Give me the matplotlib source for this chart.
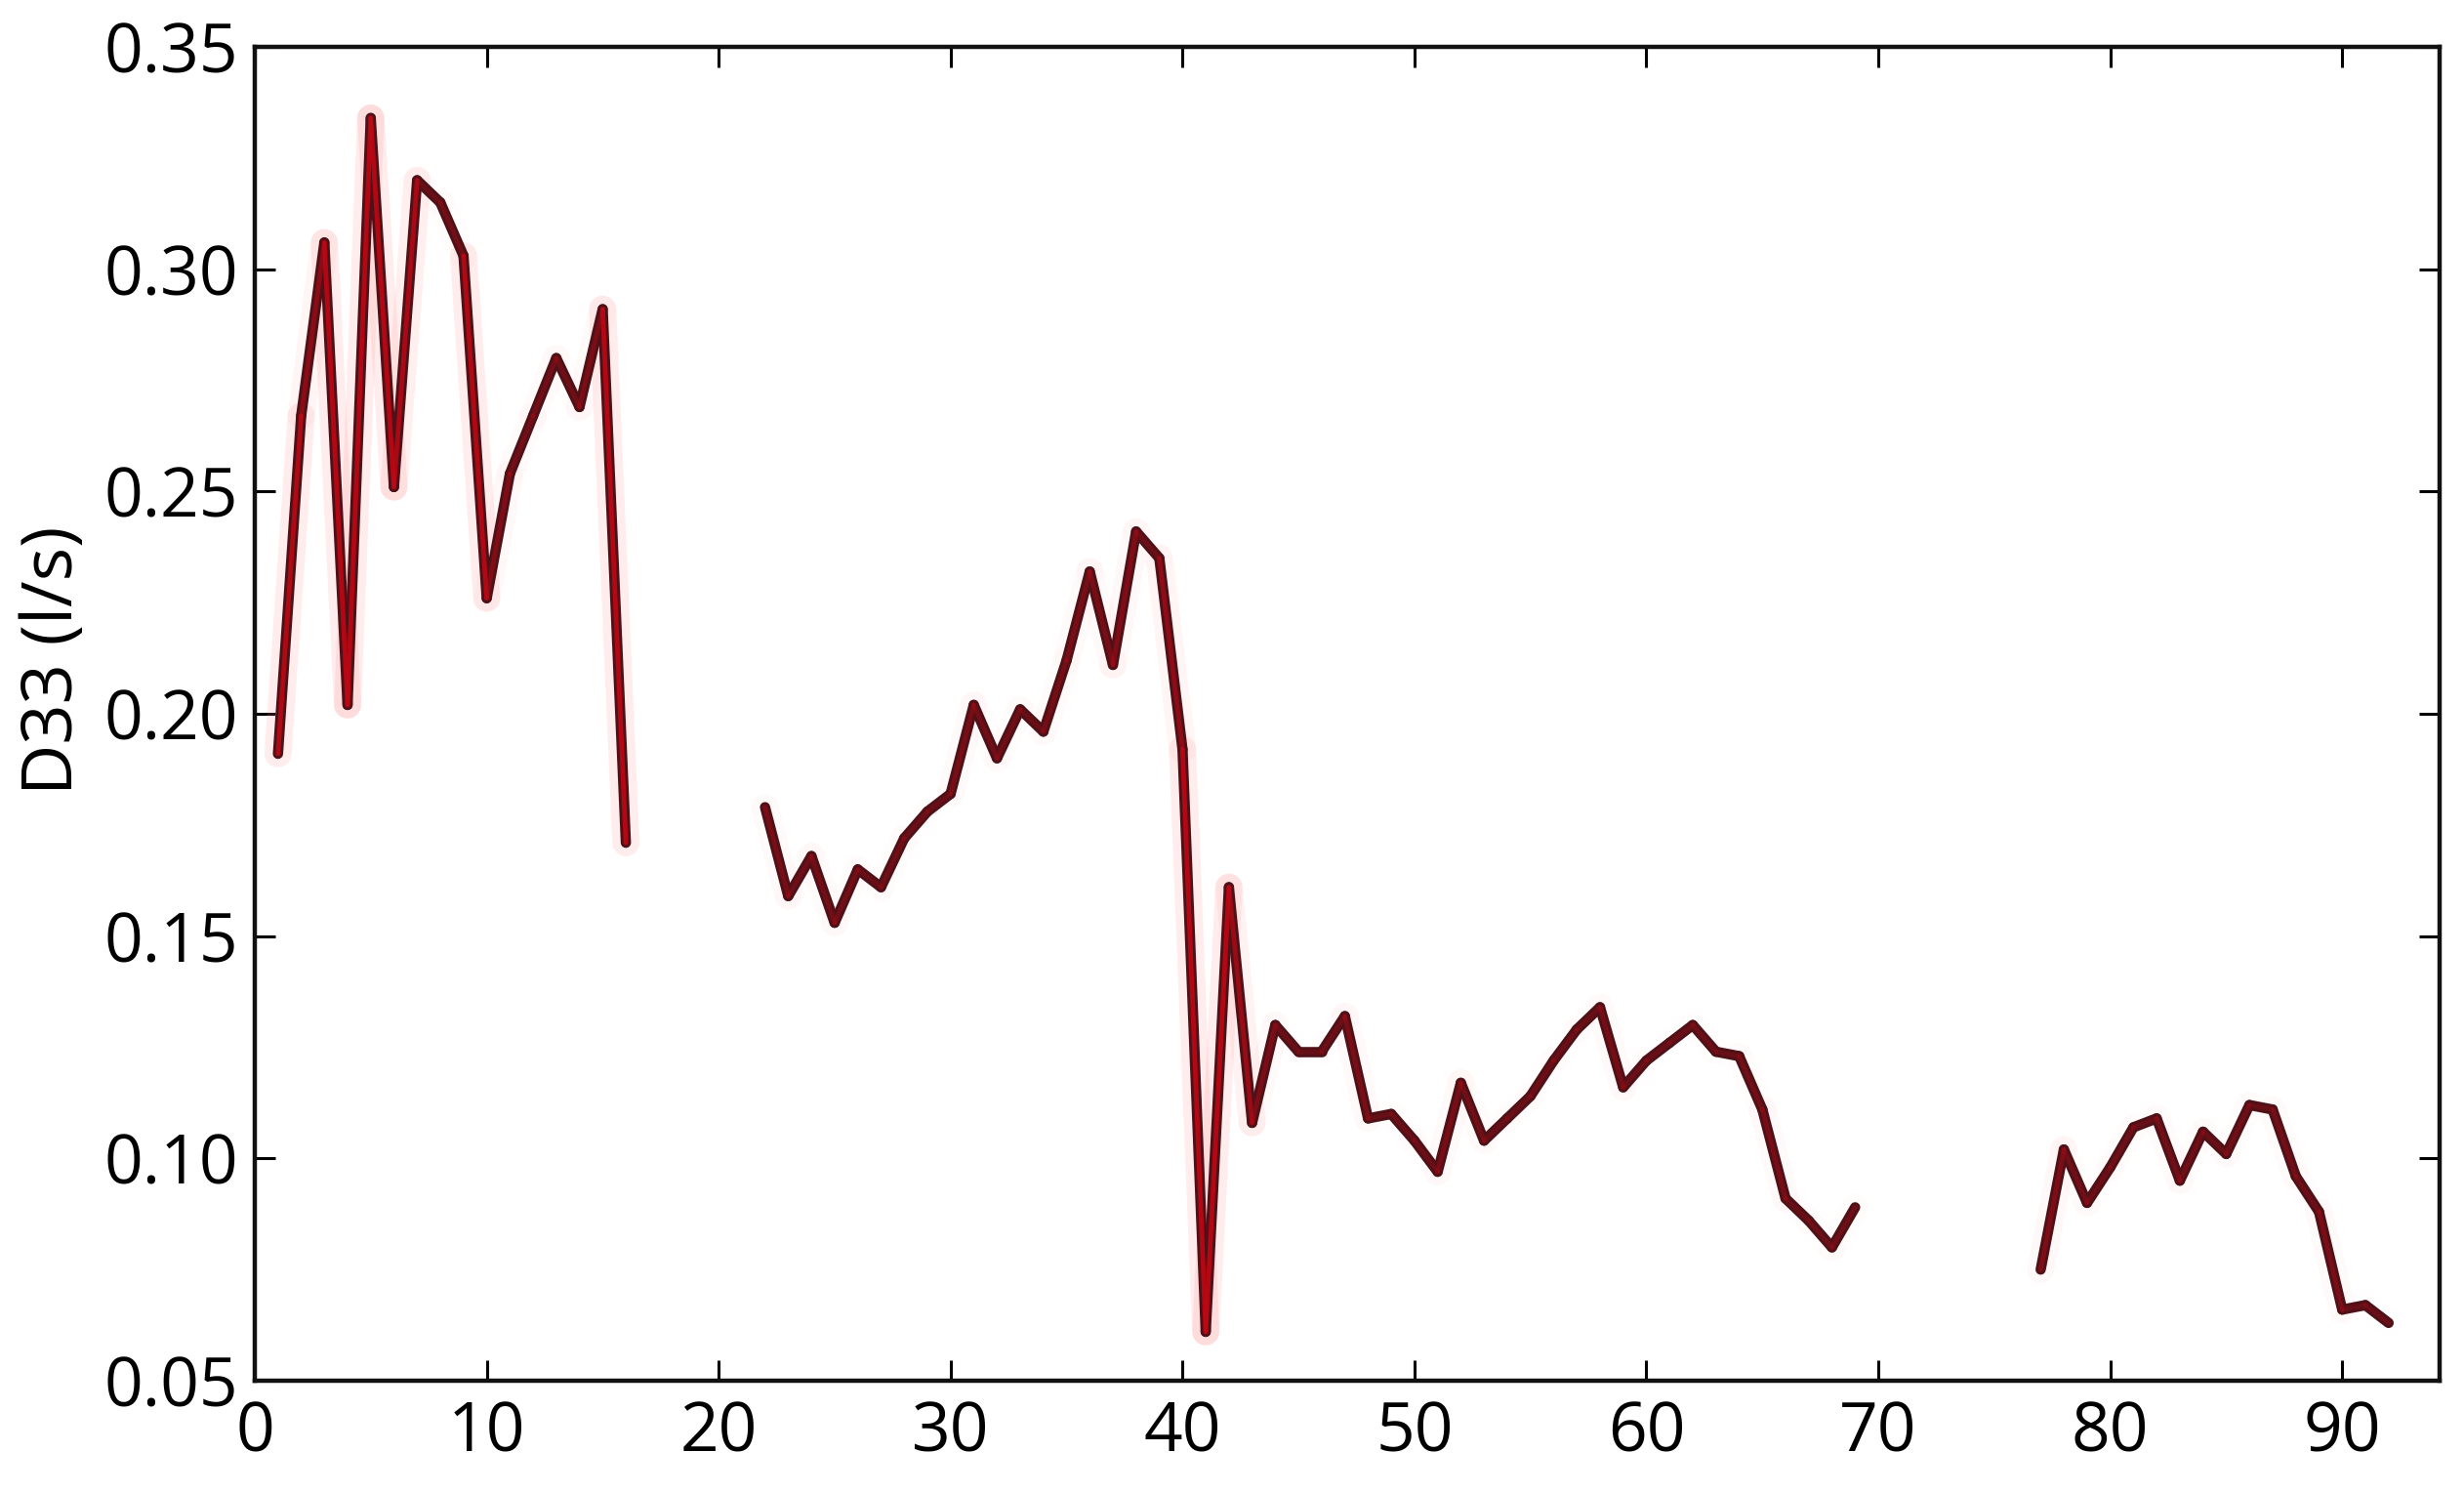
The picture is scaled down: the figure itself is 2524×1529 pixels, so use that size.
import numpy as np
import matplotlib
matplotlib.use("Agg")
import matplotlib.pyplot as plt
from matplotlib.collections import LineCollection

plt.rcParams['font.family'] = ['Open Sans', 'DejaVu Sans']

# data (three separate runs with gaps between)
x1 = list(range(1, 17))
y1 = [0.191, 0.267, 0.306, 0.202, 0.334, 0.251, 0.320, 0.315, 0.303, 0.226,
      0.254, 0.267, 0.280, 0.269, 0.291, 0.171]

x2 = list(range(22, 70))
y2 = [0.179, 0.159, 0.168, 0.153, 0.165, 0.161, 0.172, 0.178, 0.182, 0.202,
      0.190, 0.201, 0.196, 0.212, 0.232, 0.211, 0.241, 0.235, 0.192, 0.061,
      0.161, 0.108, 0.130, 0.124, 0.124, 0.132, 0.109, 0.110, 0.104, 0.097,
      0.117, 0.104, 0.109, 0.114, 0.122, 0.129, 0.134, 0.116, 0.122, 0.126,
      0.130, 0.124, 0.123, 0.111, 0.091, 0.086, 0.080, 0.089]

x3 = list(range(77, 93))
y3 = [0.075, 0.102, 0.090, 0.098, 0.107, 0.109, 0.095, 0.106, 0.101, 0.112,
      0.111, 0.096, 0.088, 0.066, 0.067, 0.063]

xticks = [0, 10, 20, 30, 40, 50, 60, 70, 80, 90]
yticks = [0.05, 0.10, 0.15, 0.20, 0.25, 0.30, 0.35]

fig = plt.figure(figsize=(25.24, 15.29), dpi=100)
ax = fig.add_axes([0.1034, 0.0752, 0.8867, 0.8934])

for xs, ys in [(x1, y1), (x2, y2), (x3, y3)]:
    pts = np.column_stack([xs, ys])
    segs = np.stack([pts[:-1], pts[1:]], axis=1)
    # steep parts get a red core and a pink haze, like in the original
    steep = np.clip(np.abs(np.diff(ys)) / 0.08, 0, 1)
    glow = LineCollection(segs, colors=[(1, 0.55, 0.55, 0.16 * s) for s in steep],
                          linewidths=20, capstyle='round', zorder=2)
    ax.add_collection(glow)
    base = LineCollection(segs, colors='#4f1117', linewidths=7.6,
                          capstyle='round', joinstyle='round', zorder=3)
    ax.add_collection(base)
    core = LineCollection(segs, colors=[(0.75, 0.03, 0.08, 0.2 + 0.7 * s) for s in steep],
                          linewidths=3.4, capstyle='round', joinstyle='round', zorder=4)
    ax.add_collection(core)

ax.set_xlim(0, 94.2)
ax.set_ylim(0.05, 0.35)
ax.set_xticks(xticks)
ax.set_yticks(yticks)
ax.set_yticklabels([f"{v:.2f}" for v in yticks])

ax.tick_params(direction='in', top=True, right=True, length=15, width=2.2,
               labelsize=50, colors='black')
ax.tick_params(axis='x', pad=14)
ax.tick_params(axis='y', pad=12)
for s in ax.spines.values():
    s.set_linewidth(3.2)
    s.set_color('#111111')

ax.set_ylabel("D33 (l/s)", fontsize=52)
ax.yaxis.set_label_coords(-0.076, 0.54)

fig.savefig("out.png", dpi=100, facecolor='white')
